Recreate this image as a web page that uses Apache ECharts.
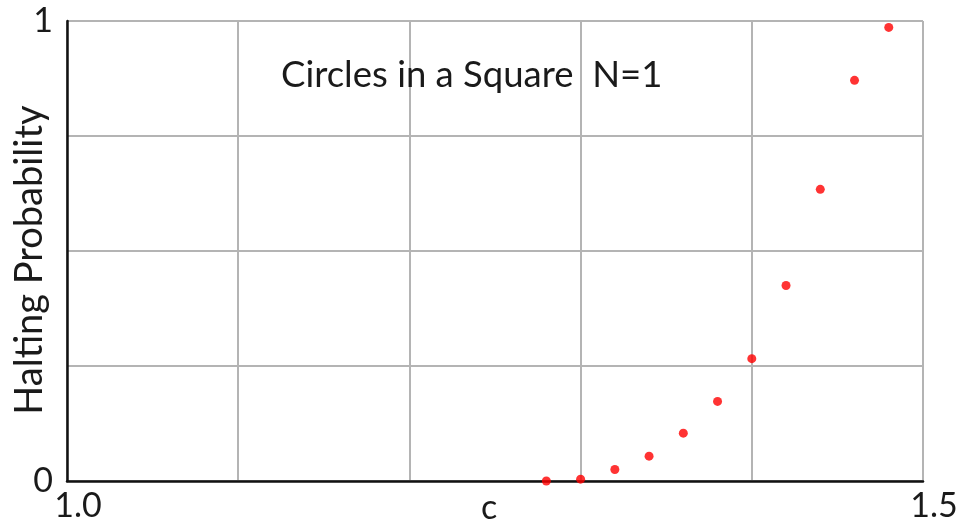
<!DOCTYPE html>
<html>
<head>
<meta charset="utf-8">
<title>Circles in a Square N=1</title>
<script src="https://cdn.jsdelivr.net/npm/echarts@6/dist/echarts.min.js"></script>
<style>
  html, body { margin: 0; padding: 0; background: #fff; }
  #chart { width: 958px; height: 527px; }
</style>
</head>
<body>
<div id="chart"></div>
<script>
// c values (x) and halting probability (y)
const cValues = [1.28, 1.30, 1.32, 1.34, 1.36, 1.38, 1.40, 1.42, 1.44, 1.46, 1.48]
const haltProb = [0.0, 0.004, 0.025, 0.054, 0.104, 0.173, 0.266, 0.425, 0.634, 0.871, 0.986]
const xTickLabels = ['1.0', '1.5']
const yTickLabels = ['0', '1']

const points = cValues.map((c, i) => [c, haltProb[i]])

const font = 'Lato'
const chart = echarts.init(document.getElementById('chart'))

chart.setOption({
    animation: false,
    title: {
        text: 'Circles in a Square  N=1',
        left: 276,
        top: 52,
        textStyle: {
            fontFamily: font,
            fontSize: 36.5,
            fontWeight: 'normal',
            color: '#1a1a1a'
        }
    },
    grid: {
        left: 67,
        right: 35,
        top: 21,
        bottom: 46,
        containLabel: false,
        outerBoundsMode: 'none'
    },
    xAxis: {
        type: 'value',
        min: 1.0,
        max: 1.5,
        interval: 0.1,
        name: 'c',
        nameLocation: 'middle',
        nameGap: 10,
        nameMoveOverlap: false,
        nameTextStyle: {
            fontFamily: font,
            fontSize: 34,
            color: '#1a1a1a',
            verticalAlign: 'top',
            padding: [0, 12, 0, 0]
        },
        axisLine: { show: true, lineStyle: { color: '#111', width: 2.5 } },
        axisTick: { show: false },
        axisLabel: {
            margin: 8,
            fontFamily: font,
            fontSize: 34,
            color: '#1a1a1a',
            padding: [0, 0, 0, 22],
            formatter: (v) => {
                if (Math.abs(v - 1.0) < 1e-9) return xTickLabels[0]
                if (Math.abs(v - 1.5) < 1e-9) return xTickLabels[1]
                return ''
            }
        },
        splitLine: { show: true, lineStyle: { color: '#b4b4b4', width: 2 } }
    },
    yAxis: {
        type: 'value',
        min: 0,
        max: 1,
        interval: 0.25,
        name: 'Halting Probability',
        nameLocation: 'middle',
        nameGap: 18,
        nameRotate: 90,
        nameMoveOverlap: false,
        nameTextStyle: {
            fontFamily: font,
            fontSize: 38,
            color: '#1a1a1a',
            padding: [0, 18, 0, 0]
        },
        axisLine: { show: true, lineStyle: { color: '#111', width: 2.5 } },
        axisTick: { show: false },
        axisLabel: {
            margin: 14,
            fontFamily: font,
            fontSize: 34,
            color: '#1a1a1a',
            formatter: (v) => {
                if (v === 0) return yTickLabels[0]
                if (v === 1) return yTickLabels[1]
                return ''
            }
        },
        splitLine: { show: true, lineStyle: { color: '#b4b4b4', width: 2 } }
    },
    series: [
        {
            type: 'scatter',
            data: points,
            symbol: 'circle',
            symbolSize: 9,
            itemStyle: { color: '#ff0000' },
            clip: false
        }
    ]
})
</script>
</body>
</html>
